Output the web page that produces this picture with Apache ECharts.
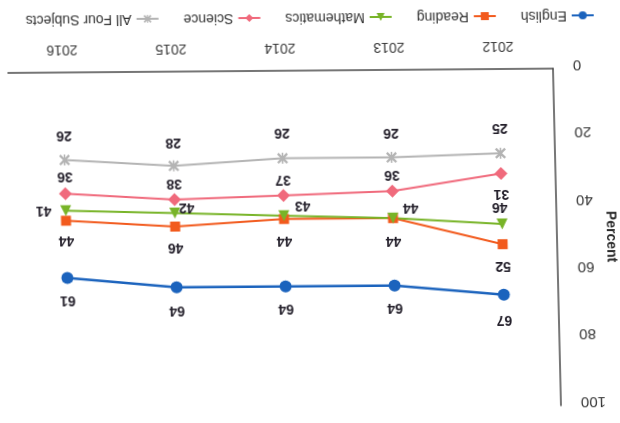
<!DOCTYPE html>
<html>
<head>
<meta charset="utf-8">
<script src="https://cdn.jsdelivr.net/npm/echarts@6/dist/echarts.min.js"></script>
<style>
  html, body { margin: 0; padding: 0; background: #ffffff; width: 620px; height: 423px; overflow: hidden; }
  #chart {
    position: absolute; left: 0; top: 0; width: 620px; height: 423px;
    transform-origin: 0 0;
    /* page is printed upside down, slightly skewed */
    transform: matrix(-1, 0.008, -0.0237, -1, 621.4, 423.0);
  }
</style>
</head>
<body>
<div id="chart"></div>
<script>
// Percent of students by subject, 2012-2016
const years = ['2012', '2013', '2014', '2015', '2016'];
const english = [67, 64, 64, 64, 61];
const reading = [52, 44, 44, 46, 44];
const mathematics = [46, 44, 43, 42, 41];
const science = [31, 36, 37, 38, 36];
const allFour = [25, 26, 26, 28, 26];
const yTicks = [0, 20, 40, 60, 80, 100];

// label placement (offset of label centre from the marker), per point
const englishLabelOffsets = [[0, -25], [0, -22], [0, -22], [0, -23], [0, -22]];
const readingLabelOffsets = [[0, -22], [0, -23], [0, -22], [0, -21], [0, -20]];
const mathLabelOffsets = [[2, 17], [-18, 10], [-19, 10], [-12, 6], [22, 0]];
const scienceLabelOffsets = [[0, -20], [0, 16], [0, 16], [0, 16], [0, 17]];
const allFourLabelOffsets = [[0, 25], [0, 25], [0, 26], [0, 24], [0, 25]];

const starSymbol = 'path://M1.5,0 L5,3.5 L8.5,0 L10,1.5 L6.5,5 L10,8.5 L8.5,10 L5,6.5 L1.5,10 L0,8.5 L3.5,5 L0,1.5 Z M4.3,0 L5.7,0 L5.7,10 L4.3,10 Z';

function points(values, offsets) {
  return values.map((v, i) => ({
    value: v,
    label: { position: 'inside', offset: offsets[i] }
  }));
}

const labelStyle = {
  show: true,
  fontFamily: 'Liberation Sans, Arial, sans-serif',
  fontWeight: 'bold',
  fontSize: 14,
  color: '#231f2a'
};

function lineSeries(name, values, offsets, color, symbol, size, width) {
  return {
    name: name,
    type: 'line',
    data: points(values, offsets),
    symbol: symbol,
    symbolSize: size,
    showAllSymbol: true,
    lineStyle: { color: color, width: width },
    itemStyle: { color: color, borderWidth: 0 },
    label: labelStyle,
    emphasis: { disabled: true },
    animation: false
  };
}

const chart = echarts.init(document.getElementById('chart'), null, { renderer: 'canvas' });
chart.setOption({
  backgroundColor: '#ffffff',
  animation: false,
  grid: { left: 60, top: 18, width: 545, bottom: 68, containLabel: false, outerBoundsMode: 'none' },
  legend: {
    bottom: 3,
    left: 12,
    itemGap: 24,
    itemWidth: 22,
    itemHeight: 10,
    textStyle: { fontFamily: 'Liberation Sans, Arial, sans-serif', fontSize: 14, color: '#333333' },
    data: ['English', 'Reading', 'Mathematics', 'Science', 'All Four Subjects']
  },
  xAxis: {
    type: 'category',
    data: years,
    boundaryGap: true,
    axisLine: { show: true, lineStyle: { color: '#4a4a4a', width: 1.5 } },
    axisTick: { show: false },
    axisLabel: { margin: 16, fontFamily: 'Liberation Sans, Arial, sans-serif', fontSize: 14, color: '#3a3a3a' },
    splitLine: { show: false }
  },
  yAxis: {
    type: 'value',
    min: yTicks[0],
    max: yTicks[yTicks.length - 1],
    interval: yTicks[1] - yTicks[0],
    name: 'Percent',
    nameLocation: 'middle',
    nameRotate: 90,
    nameGap: 47,
    nameMoveOverlap: false,
    nameTextStyle: { fontFamily: 'Liberation Sans, Arial, sans-serif', fontSize: 14, fontWeight: 'bold', color: '#2a2a2a' },
    axisLine: { show: true, lineStyle: { color: '#4a4a4a', width: 1.5 } },
    axisTick: { show: false },
    axisLabel: { margin: 20, verticalAlign: 'top', lineHeight: 8, fontFamily: 'Liberation Sans, Arial, sans-serif', fontSize: 15, color: '#333333' },
    splitLine: { show: false }
  },
  series: [
    lineSeries('English', english, englishLabelOffsets, '#1b63bd', 'circle', 12, 2.5),
    lineSeries('Reading', reading, readingLabelOffsets, '#f25a1d', 'rect', 10, 2),
    lineSeries('Mathematics', mathematics, mathLabelOffsets, '#78b428', 'triangle', 11, 2),
    lineSeries('Science', science, scienceLabelOffsets, '#f06a7c', 'diamond', 13, 2),
    lineSeries('All Four Subjects', allFour, allFourLabelOffsets, '#b4b4b4', starSymbol, 11, 2)
  ]
});
</script>
</body>
</html>
